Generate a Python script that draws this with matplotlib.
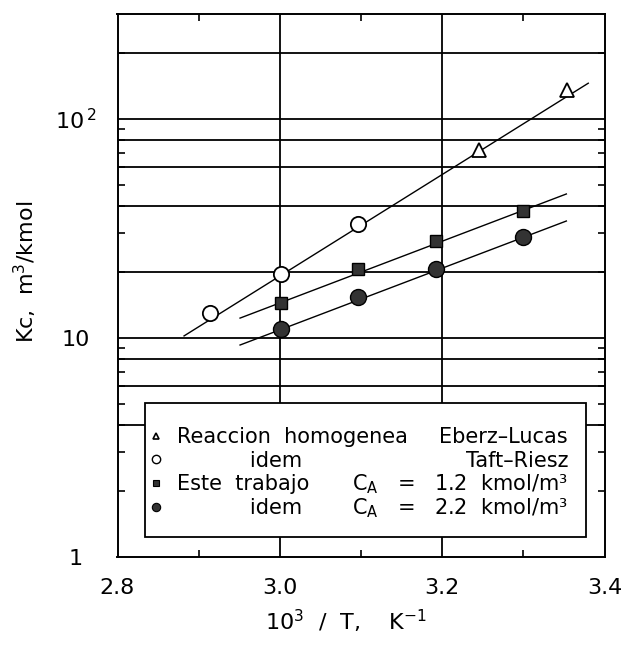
import matplotlib
matplotlib.use("Agg")
import matplotlib.pyplot as plt
from matplotlib.lines import Line2D
from matplotlib.patches import Rectangle
from matplotlib.ticker import FixedLocator, NullFormatter

plt.rcParams['font.family'] = ['DejaVu Sans']
plt.rcParams['mathtext.fontset'] = 'dejavusans'

# ---- data ----
eberz_x = [3.245, 3.354]
eberz_y = [72.0, 135.0]

taft_x = [2.914, 3.002, 3.096]
taft_y = [13.0, 19.6, 33.0]

ca12_x = [3.002, 3.096, 3.193, 3.299]
ca12_y = [14.4, 20.6, 27.7, 37.9]

ca22_x = [3.002, 3.096, 3.193, 3.299]
ca22_y = [11.0, 15.4, 20.6, 28.8]

# fitted lines (end points)
fitA_x = [2.882, 3.380]
fitA_y = [10.2, 145.0]
fitB_x = [2.951, 3.353]
fitB_y = [12.3, 45.3]
fitC_x = [2.951, 3.353]
fitC_y = [9.27, 34.1]

xticks = [2.8, 3.0, 3.2, 3.4]
xtick_labels = ['2.8', '3.0', '3.2', '3.4']
xminor = [2.9, 3.1, 3.3]
yticks = [1, 10, 100]
ytick_labels = ['1', '10', r'10$^{\,2}$']
ygrid = [4, 6, 8, 10, 20, 40, 60, 80, 100, 200]
xgrid = [3.0, 3.2]

legend_left = ['Reaccion  homogenea',
               '           idem',
               'Este  trabajo',
               '           idem']
legend_right = ['Eberz\u2013Lucas', 'Taft\u2013Riesz',
                'C$_{\\rm A}$   =   1.2  kmol/m\u00b3',
                'C$_{\\rm A}$   =   2.2  kmol/m\u00b3']

# ---- figure ----
W, H = 621, 651
fig = plt.figure(figsize=(W / 100, H / 100), dpi=100)
ax = fig.add_axes([117.5 / W, 1 - 557 / H, 487 / W, 543 / H])
ax.set_yscale('log')
ax.set_xlim(2.8, 3.4)
ax.set_ylim(1, 300)

for g in ygrid:
    ax.axhline(g, color='black', lw=1.3, zorder=1)
for g in xgrid:
    ax.axvline(g, color='black', lw=1.3, zorder=1)

lw_fit = 1.0
ax.plot(fitA_x, fitA_y, color='black', lw=lw_fit, zorder=2)
ax.plot(fitB_x, fitB_y, color='black', lw=lw_fit, zorder=2)
ax.plot(fitC_x, fitC_y, color='black', lw=lw_fit, zorder=2)

fill = '#333333'
ax.plot(eberz_x, eberz_y, ls='none', marker='^', ms=10, mfc='white', mec='black', mew=1.3, zorder=4)
ax.plot(taft_x, taft_y, ls='none', marker='o', ms=11, mfc='white', mec='black', mew=1.3, zorder=4)
ax.plot(ca12_x, ca12_y, ls='none', marker='s', ms=8.5, mfc=fill, mec='black', mew=1.0, zorder=4)
ax.plot(ca22_x, ca22_y, ls='none', marker='o', ms=11.5, mfc=fill, mec='black', mew=1.0, zorder=4)

# ticks
ax.xaxis.set_major_locator(FixedLocator(xticks))
ax.set_xticklabels(xtick_labels)
ax.xaxis.set_minor_locator(FixedLocator(xminor))
ax.xaxis.set_minor_formatter(NullFormatter())
ax.yaxis.set_major_locator(FixedLocator(yticks))
ax.set_yticklabels(ytick_labels)
yminor = [m * d for d in (1, 10, 100) for m in range(2, 10) if m * d < 300]
ax.yaxis.set_minor_locator(FixedLocator(yminor))
ax.yaxis.set_minor_formatter(NullFormatter())
ax.tick_params(which='both', direction='in', top=True, right=True, width=1.2, color='black')
ax.tick_params(which='major', length=0)
ax.tick_params(which='minor', length=5)
ax.tick_params(axis='x', which='major', labelsize=16, pad=15)
ax.tick_params(axis='y', which='major', labelsize=16, pad=30)
for t in ax.get_yticklabels():
    t.set_horizontalalignment('center')
for s in ax.spines.values():
    s.set_linewidth(1.4)

ax.set_xlabel(r'10$^3$  /  T,    K$^{-1}$', fontsize=16)
ax.xaxis.label.set_verticalalignment('center')
ax.xaxis.set_label_coords((346 - 117.5) / 487, -(621 - 557) / 543)
ax.set_ylabel(r'Kc,  m$^3$/kmol', fontsize=16)
ax.yaxis.set_label_coords(-(117.5 - 25) / 487, (557 - 272) / 543)
ax.yaxis.label.set_verticalalignment('center')

# legend box
bx0 = (145 - 117.5) / 487
bx1 = (586 - 117.5) / 487
by0 = (557 - 537) / 543
by1 = (557 - 403) / 543
ax.add_patch(Rectangle((bx0, by0), bx1 - bx0, by1 - by0, transform=ax.transAxes,
                       facecolor='white', edgecolor='black', lw=1.3, zorder=5))
handles = [
    Line2D([], [], ls='none', marker='^', ms=5, mfc='white', mec='black', mew=1.2),
    Line2D([], [], ls='none', marker='o', ms=6, mfc='white', mec='black', mew=1.0),
    Line2D([], [], ls='none', marker='s', ms=5, mfc=fill, mec='black', mew=0.8),
    Line2D([], [], ls='none', marker='o', ms=6, mfc=fill, mec='black', mew=0.8),
]
leg = ax.legend(handles, legend_left, loc='upper left', frameon=False,
                bbox_to_anchor=((150 - 117.5) / 487, (557 - 427) / 543),
                borderaxespad=0, borderpad=0, handlelength=0.6, handletextpad=0.7,
                labelspacing=0.18, fontsize=15)
leg.set_zorder(6)
fig.canvas.draw()
inv = ax.transAxes.inverted()
xr = (568 - 117.5) / 487
for t, s in zip(leg.get_texts(), legend_right):
    bb = t.get_window_extent()
    yc = inv.transform((0, (bb.y0 + bb.y1) / 2))[1]
    ax.text(xr, yc, s, transform=ax.transAxes, ha='right', va='center',
            fontsize=15, zorder=7)

fig.savefig('out.png', dpi=100)
